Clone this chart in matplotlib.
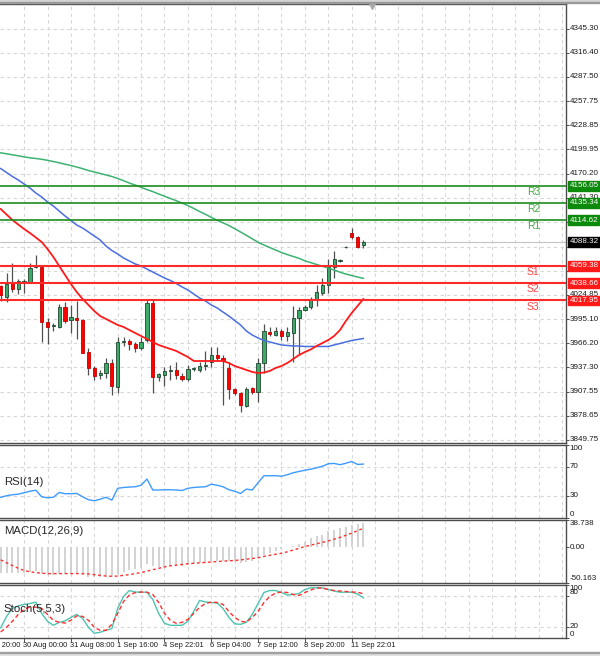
import matplotlib.pyplot as plt
import matplotlib.transforms as mtransforms
from matplotlib.patches import Rectangle
import numpy as np

plt.rcParams['font.family'] = ['Liberation Sans', 'DejaVu Sans']
NARROW = ['Liberation Sans Narrow', 'Liberation Sans', 'DejaVu Sans']

# H4 candles
opens = [4035, 4022, 4039, 4031.3, 4039.5, 4039.8, 4058, 4058.5, 3992.3, 3987,
         3986.2, 4010.3, 3994.3, 3996.3, 3994.3, 3955.8, 3936.8, 3928, 3930, 3942.2,
         3914, 3968, 3969.4, 3965, 3960.3, 3970.2, 4015.2, 3925.3, 3928, 3933,
         3933.8, 3927, 3922.9, 3935.6, 3934.1, 3939, 3944, 3952.2, 3949, 3936,
         3910.8, 3906, 3891, 3912, 3907.7, 3942.2, 3980.3, 3976.8, 3981.1, 3975,
         3979, 3996.3, 4006.4, 4009.6, 4018.4, 4026.5, 4036.5, 4058.5, 4065.4, 4082,
         4098.7, 4094.7, 4084.2]
highs = [4037, 4050.6, 4063, 4043.3, 4043.3, 4063.3, 4072.6, 4060.6, 3997, 3991,
         4013.6, 4016.4, 4012.4, 4017.2, 3996, 3960.2, 3938.9, 3934, 3948.2, 3947,
         3974.2, 3973.6, 3971, 3968, 3974.3, 4018.4, 4018.4, 3931, 3937.3, 3940,
         3944, 3930.8, 3940, 3938, 3944, 3957.3, 3962, 3962, 3952, 3944,
         3912, 3908, 3913.2, 3913, 3949, 3989, 3985.5, 3985.5, 3983, 3985.5,
         4011.2, 4010.3, 4012, 4022.4, 4036.5, 4044.5, 4067.4, 4077.8, 4067.4, 4083,
         4104.7, 4096, 4090.7]
lows = [4017, 4016.4, 4028.5, 4025.6, 4026.5, 4039, 4057, 3968.2, 3965, 3981.4,
        3985, 3991, 3979, 3971, 3954, 3928, 3922, 3922.9, 3924, 3904,
        3906, 3963, 3958, 3956, 3958, 3968, 3906, 3921.2, 3914.8, 3922,
        3923, 3921, 3921, 3933, 3932, 3934, 3937.3, 3946, 3892, 3898.7,
        3904, 3884, 3889, 3905, 3896, 3930, 3975, 3975, 3970, 3969.4,
        3944, 3952, 4005, 4008, 4011.2, 4024.4, 4026.5, 4044.5, 4064, 4081.5,
        4092, 4080.6, 4080.6]
closes = [4025, 4037.3, 4031.3, 4041.3, 4041, 4057.3, 4059, 3992.3, 3986.2, 3988,
          4009.6, 3993.5, 3997.5, 3994.3, 3955, 3936.1, 3926.8, 3931, 3942.2, 3914.8,
          3968, 3969, 3965, 3961, 3968.2, 4015.2, 3925.3, 3929.3, 3933, 3933.8,
          3928, 3922.9, 3934.9, 3936.5, 3939.3, 3939.8, 3952.2, 3948.2, 3946, 3910.8,
          3906, 3892, 3911.2, 3907, 3942.2, 3981.1, 3977, 3981.1, 3975, 3979.5,
          3996.3, 4006.4, 4010.3, 4019.6, 4028.5, 4036.5, 4058.5, 4067.4, 4066.4, 4082.5,
          4093.9, 4082.6, 4088.32]

# moving averages (red fast, blue mid, green slow)
ma_fast = [4128.0, 4121.4, 4114.8, 4109.3, 4103.9, 4099.1, 4093.7, 4088.3, 4079.8, 4070.2,
           4059.4, 4048.5, 4037.7, 4028.0, 4019.6, 4012.4, 4005.1, 3999.1, 3995.5, 3991.9,
           3988.3, 3985.9, 3982.2, 3978.6, 3975.0, 3971.4, 3967.8, 3964.2, 3961.8, 3959.4,
           3957.0, 3953.3, 3949.7, 3944.9, 3944.9, 3944.9, 3944.9, 3944.9, 3944.9, 3942.5,
           3938.9, 3936.5, 3934.1, 3931.7, 3930.4, 3931.0, 3932.9, 3936.5, 3938.9, 3942.5,
           3947.3, 3952.1, 3955.7, 3958.8, 3963.0, 3966.6, 3970.2, 3975.0, 3982.2, 3993.1,
           4002.7, 4011.2, 4019.6]
ma_mid = [4176.8, 4172.0, 4167.2, 4163.0, 4158.1, 4153.3, 4147.3, 4142.5, 4136.5, 4131.6,
          4125.6, 4119.6, 4114.2, 4108.7, 4105.1, 4100.3, 4095.5, 4090.7, 4083.4, 4078.0,
          4073.8, 4069.0, 4065.4, 4061.8, 4059.4, 4055.7, 4052.1, 4048.5, 4044.9, 4041.9,
          4038.3, 4034.1, 4030.4, 4025.6, 4020.8, 4017.2, 4012.4, 4008.8, 4003.9, 3999.1,
          3993.7, 3988.3, 3981.0, 3976.2, 3972.6, 3969.6, 3967.8, 3966.0, 3964.2, 3963.6,
          3963.0, 3963.0, 3962.4, 3962.4, 3962.4, 3962.4, 3962.4, 3964.2, 3966.0, 3967.8,
          3969.6, 3970.8, 3972.0]
ma_slow = [4195.7, 4194.5, 4193.3, 4192.1, 4190.8, 4189.7, 4188.9, 4187.9, 4186.7, 4185.2,
           4183.7, 4182.0, 4180.4, 4178.6, 4176.6, 4174.4, 4172.6, 4170.8, 4169.0, 4167.2,
           4164.8, 4162.1, 4159.3, 4156.9, 4154.2, 4151.4, 4149.0, 4146.1, 4143.4, 4140.7,
           4138.0, 4135.2, 4132.1, 4128.7, 4125.0, 4121.6, 4118.0, 4114.4, 4111.4, 4108.1,
           4104.3, 4100.3, 4096.3, 4092.1, 4087.9, 4084.6, 4081.6, 4078.6, 4075.6, 4073.1,
           4070.8, 4068.6, 4065.6, 4063.4, 4061.2, 4059.0, 4056.9, 4054.5, 4051.9, 4049.7,
           4047.9, 4046.1, 4044.5]

rsi = [27.9, 30, 31.4, 32.1, 34.1, 36.2, 37.6, 28.6, 27.2, 27.9,
       34.6, 32.8, 32.8, 33.2, 28.6, 24.5, 23.1, 25.2, 27.9, 24,
       40.3, 41.4, 42, 42.4, 44.5, 53, 37.9, 37.9, 38.3, 38.3,
       37.9, 37.2, 40.3, 41.4, 42, 42.4, 45.9, 44.5, 42.4, 38.3,
       36.2, 33.2, 39.2, 37.9, 48, 57.6, 57.6, 57.6, 56.9, 59,
       61.7, 63.5, 65.2, 66.6, 68.6, 70.7, 74.1, 74.6, 72.8, 74.8,
       77.3, 73.2, 73.7]

macd_main = [-36, -36, -36, -36, -36, -35, -34, -38, -40, -40,
             -38, -38, -38, -38, -40, -42, -43, -43, -42, -43,
             -38, -35, -33, -31, -29, -24, -27, -28, -28, -27,
             -27, -27, -25, -24, -23, -22, -20, -19, -19, -20,
             -21, -23, -21, -20, -16, -11, -8, -5, -2, 0,
             2, 4, 8, 13.5, 16, 17, 23.4, 24.4, 26.8, 28.2,
             31.5, 32.9, 34.7]
macd_signal = [-18, -22, -26, -30, -33, -35, -36, -37, -37.5, -37.5,
               -37.5, -37.5, -37.5, -37.5, -37.5, -38, -39, -40, -41, -41.3,
               -41, -40, -39, -37.5, -36, -34, -32, -30, -28, -26.5,
               -25.5, -24.5, -23.5, -22.8, -22.2, -21.6, -21, -20.4, -19.8, -19.3,
               -18.8, -18, -17, -16, -15, -13, -11.5, -10, -8.5, -6.5,
               -4, -1.5, 1, 3, 5, 7, 9, 11.5, 14, 17,
               20, 23.5, 27]

stoch_main = [18.4, 40.2, 55.4, 60.1, 63, 64.8, 67.3, 45.9, 30.8, 23.2,
              28.9, 31.7, 38.3, 44, 36.4, 19.4, 8, 9.9, 13.7, 16.9,
              55.4, 78.1, 89.5, 86.6, 86.3, 86.3, 72.4, 45.9, 27, 23.2,
              23.2, 23.2, 30.8, 49.7, 70.5, 67.7, 66.7, 65.8, 55.4, 38.3,
              26, 25.1, 28.9, 44, 64.8, 85.7, 89.5, 89.5, 85.7, 80.9,
              81.9, 83.8, 91.4, 94.6, 94.6, 94.6, 91.4, 88.5, 86.3, 86.3,
              86.3, 82.8, 75.6]
stoch_signal = [10.5, 19.4, 30.8, 44, 53.5, 58.2, 57.8, 55.4, 44, 32.7,
                28.9, 27.5, 32.7, 41.2, 40.2, 32.7, 19.4, 13.7, 13.7, 25.1,
                45.9, 68.6, 80.9, 85.7, 86.6, 86.3, 81.9, 66.7, 45.9, 32.7,
                27, 28.9, 34.5, 45.9, 57.3, 64.8, 67.3, 66.7, 63, 49.7,
                38.3, 30.8, 29.4, 38.3, 49.7, 66.7, 78.1, 84.7, 86.6, 85.7,
                81.9, 80, 85.7, 90.4, 94.2, 94.2, 91.4, 89.5, 88.5, 87.6,
                86.6, 86.3, 83.2]

price_ticks = [4345.30, 4316.40, 4287.50, 4257.75, 4228.85, 4199.95, 4170.20, 4141.30,
               4112.40, 4082.65, 4053.75, 4024.85, 3995.10, 3966.20, 3937.30, 3907.55,
               3878.65, 3849.75]
res_levels = [4114.62, 4135.34, 4156.05]
res_names = ['R1', 'R2', 'R3']
sup_levels = [4059.38, 4038.66, 4017.95]
sup_names = ['S1', 'S2', 'S3']
last_price = 4088.32

time_labels = ['29 Aug 20:00', '30 Aug 00:00', '31 Aug 08:00', '1 Sep 16:00', '4 Sep 22:01',
               '6 Sep 04:00', '7 Sep 12:00', '8 Sep 20:00', '11 Sep 22:01']
time_label_bars = [-4, 4, 12, 20, 28, 36, 44, 52, 60]

# layout (pixels)
W, H = 600, 656
RIGHT = 565.5
fig = plt.figure(figsize=(W / 100, H / 100), dpi=100)


def rect(top, bottom):
    return [0, 1 - bottom / H, RIGHT / W, (bottom - top) / H]


ax = fig.add_axes(rect(4, 443))
ax_rsi = fig.add_axes(rect(445, 517.5))
ax_macd = fig.add_axes(rect(520, 582.5))
ax_st = fig.add_axes(rect(585, 637.5))
panels = [ax, ax_rsi, ax_macd, ax_st]

x = np.arange(len(opens))
o = np.array(opens)
c = np.array(closes)
xmin, xmax = -0.12, 96.55
grid_kw = dict(color='#d6d6d6', lw=0.8, ls=(0, (3, 3)), zorder=0)

for a in panels:
    a.set_xlim(xmin, xmax)
    a.spines['left'].set_visible(False)
    for s in ['top', 'bottom', 'right']:
        a.spines[s].set_color('#4d4d4d')
        a.spines[s].set_linewidth(1.0)
    a.set_xticks([])
    a.yaxis.tick_right()
    a.tick_params(axis='y', length=2.5, width=0.7, color='#4d4d4d', labelright=False)
    for gx in np.arange(4, 97, 4):
        a.axvline(gx, **grid_kw)


def right_text(a, y, s, va='center', fc=None, color='#1a1a1a'):
    tr = mtransforms.blended_transform_factory(a.transAxes, a.transData)
    kw = {}
    if fc is not None:
        kw['bbox'] = dict(boxstyle='square,pad=0.16', fc=fc, ec=fc)
        color = 'white'
    a.text(1 + 4.0 / RIGHT, y, s, transform=tr, ha='left', va=va, fontsize=5.8,
           family=NARROW, color=color, clip_on=False, zorder=10, **kw)


# ---- main price panel ----
ax.set_ylim(3846.1, 4375.0)
ax.set_yticks(price_ticks)
for p in price_ticks:
    ax.axhline(p, **grid_kw)
    right_text(ax, p, '%.2f' % p)

ax.axhline(last_price, color='#c4c4c4', lw=0.8, zorder=1)

up = c >= o
body_bot = np.minimum(o, c)
body_h = np.maximum(np.abs(c - o), 0.7)
ax.vlines(x, lows, highs, color='#505050', lw=0.9, zorder=3)
ax.bar(x[up], body_h[up], 0.55, bottom=body_bot[up], color='#3caa6a',
       edgecolor='#22452f', lw=0.6, zorder=4)
ax.bar(x[~up], body_h[~up], 0.55, bottom=body_bot[~up], color='#ff0000',
       edgecolor='#c00000', lw=0.6, zorder=4)

ax.plot(x, ma_slow, color='#3cb371', lw=1.1, zorder=5)
ax.plot(x, ma_mid, color='#4a6ee0', lw=1.1, zorder=5)
ax.plot(x, ma_fast, color='#ff1a1a', lw=1.3, zorder=5)

lvl_tr = mtransforms.blended_transform_factory(ax.transAxes, ax.transData)
for lv, nm in zip(res_levels, res_names):
    ax.axhline(lv, color='#1e8c1e', lw=1.2, zorder=6)
    ax.annotate(nm, xy=(527 / RIGHT, lv), xycoords=lvl_tr, xytext=(0, -4.5),
                textcoords='offset points', ha='left', va='center', fontsize=7.5,
                color='#45a845', zorder=7)
    right_text(ax, lv, '%.2f' % lv, fc='#0c8a0c')
for lv, nm in zip(sup_levels, sup_names):
    ax.axhline(lv, color='#ff2a2a', lw=1.5, zorder=6)
    ax.annotate(nm, xy=(527 / RIGHT, lv), xycoords=lvl_tr, xytext=(0, -4.5),
                textcoords='offset points', ha='left', va='center', fontsize=7.5,
                color='#ff4545', zorder=7)
    right_text(ax, lv, '%.2f' % lv, fc='#ff1a1a')
right_text(ax, last_price, '%.2f' % last_price, fc='#000000')

# chart shift marker
ax.plot([63.5], [4372.5], marker='v', color='#a8a8a8', ms=4, clip_on=False, zorder=8)

# ---- RSI ----
ax_rsi.set_ylim(0, 100)
ax_rsi.set_yticks([100, 70, 30, 0])
for lv in [70, 30]:
    ax_rsi.axhline(lv, **grid_kw)
ax_rsi.plot(x, rsi, color='#3d9bff', lw=1.0, zorder=3)
right_text(ax_rsi, 100, '100', va='top')
right_text(ax_rsi, 70, '70')
right_text(ax_rsi, 30, '30')
right_text(ax_rsi, 0, '0', va='bottom')
ax_rsi.text(0.007, 0.49, 'RSI(14)', transform=ax_rsi.transAxes, fontsize=8.2,
            color='#262626', va='center', ha='left', zorder=6)

# ---- MACD ----
ax_macd.set_ylim(-50.163, 38.738)
ax_macd.set_yticks([38.738, 0, -50.163])
ax_macd.vlines(x, 0, macd_main, color='#cccccc', lw=1.2, zorder=2)
ax_macd.plot(x, macd_signal, color='#ff3030', lw=1.0, ls=(0, (2, 2)), zorder=3)
right_text(ax_macd, 38.738, '38.738', va='top')
right_text(ax_macd, 0, '0.00')
right_text(ax_macd, -50.163, '-50.163', va='bottom')
ax_macd.text(0.007, 0.82, 'MACD(12,26,9)', transform=ax_macd.transAxes, fontsize=8.2,
             color='#262626', va='center', ha='left', zorder=6)

# ---- Stochastic ----
ax_st.set_ylim(0, 100)
ax_st.set_yticks([100, 80, 20, 0])
for lv in [80, 20]:
    ax_st.axhline(lv, **grid_kw)
ax_st.plot(x, stoch_main, color='#4cc4b0', lw=1.0, zorder=3)
ax_st.plot(x, stoch_signal, color='#ff3030', lw=1.0, ls=(0, (3, 2)), zorder=4)
right_text(ax_st, 100, '100', va='top')
right_text(ax_st, 80, '80', va='bottom')
right_text(ax_st, 20, '20')
right_text(ax_st, 0, '0', va='bottom')
ax_st.text(0.007, 0.54, 'Stoch(5,5,3)', transform=ax_st.transAxes, fontsize=8.2,
           color='#262626', va='center', ha='left', zorder=6)

# time axis
ax_st.set_xticks([b for b in time_label_bars if b >= 0])
ax_st.tick_params(axis='x', length=3, width=0.7, color='#4d4d4d', labelbottom=False)
t_tr = mtransforms.blended_transform_factory(ax_st.transData, ax_st.transAxes)
for b, lab in zip(time_label_bars, time_labels):
    ax_st.text(b - 0.2, -0.145, lab, transform=t_tr, ha='left', va='center',
               fontsize=5.4, family=NARROW, color='#1a1a1a', clip_on=False)

# window chrome
fig.patches.append(Rectangle((0, 1 - 2.0 / H), 1, 2.0 / H, transform=fig.transFigure,
                             color='#d4d4d4', zorder=0))
fig.patches.append(Rectangle((0, 1 - 3.0 / H), 1, 1.0 / H, transform=fig.transFigure,
                             color='#9a9a9a', zorder=0))
fig.patches.append(Rectangle((0, 0), 1, 3.5 / H, transform=fig.transFigure,
                             color='#e2e2e2', zorder=0))
fig.patches.append(Rectangle((0, 3.5 / H), 1, 0.8 / H, transform=fig.transFigure,
                             color='#a0a0a0', zorder=0))

fig.savefig('out.png', dpi=100)
